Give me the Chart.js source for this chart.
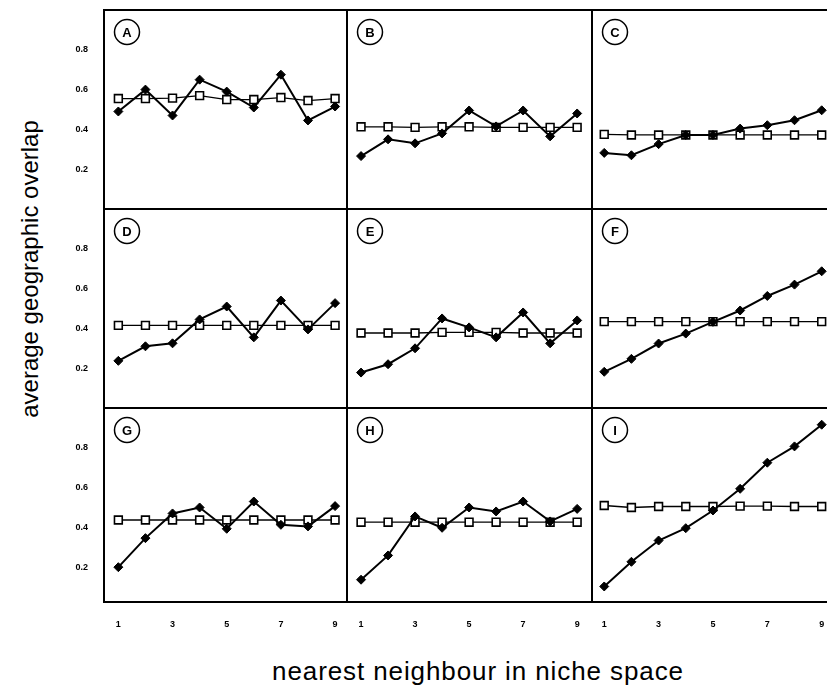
<!DOCTYPE html>
<html>
<head>
<meta charset="utf-8">
<script src="https://cdn.jsdelivr.net/npm/chart.js@4"></script>
<style>
  html, body { margin: 0; padding: 0; background: #fff; }
  body { width: 827px; height: 694px; overflow: hidden; position: relative; font-family: Arial, "Liberation Sans", sans-serif; color: #000; }
  canvas { position: absolute; }
  .ytitle { position: absolute; left: 30px; top: 269px; transform: translate(-50%, -50%) rotate(-90deg); font-size: 24px; white-space: nowrap; }
  .xtitle { position: absolute; left: 478px; top: 671px; transform: translate(-50%, -50%); font-size: 26px; letter-spacing: 0.9px; white-space: nowrap; }
</style>
</head>
<body>
<div class="ytitle">average geographic overlap</div>
<div class="xtitle">nearest neighbour in niche space</div>
<script>
const xValues = [1, 2, 3, 4, 5, 6, 7, 8, 9];
const xTicks = [1, 3, 5, 7, 9];
const yTicks = [0.2, 0.4, 0.6, 0.8];
const panelLabels = ['A', 'B', 'C', 'D', 'E', 'F', 'G', 'H', 'I'];

// open squares / filled diamonds, per panel
const openA   = [0.555, 0.555, 0.557, 0.57, 0.55, 0.55, 0.56, 0.545, 0.555];
const filledA = [0.49, 0.60, 0.47, 0.65, 0.59, 0.51, 0.675, 0.445, 0.515];
const openB   = [0.413, 0.413, 0.41, 0.413, 0.413, 0.41, 0.41, 0.41, 0.41];
const filledB = [0.266, 0.35, 0.33, 0.38, 0.495, 0.415, 0.495, 0.365, 0.48];
const openC   = [0.375, 0.372, 0.372, 0.372, 0.372, 0.372, 0.372, 0.372, 0.372];
const filledC = [0.282, 0.27, 0.326, 0.372, 0.372, 0.404, 0.421, 0.446, 0.496];
const openD   = [0.415, 0.415, 0.415, 0.415, 0.415, 0.415, 0.415, 0.415, 0.415];
const filledD = [0.237, 0.31, 0.325, 0.445, 0.51, 0.355, 0.54, 0.395, 0.527];
const openE   = [0.377, 0.377, 0.377, 0.38, 0.38, 0.38, 0.377, 0.377, 0.377];
const filledE = [0.178, 0.22, 0.30, 0.45, 0.405, 0.355, 0.48, 0.325, 0.44];
const openF   = [0.434, 0.434, 0.434, 0.434, 0.434, 0.434, 0.434, 0.434, 0.434];
const filledF = [0.182, 0.247, 0.324, 0.374, 0.433, 0.49, 0.563, 0.62, 0.687];
const openG   = [0.437, 0.437, 0.437, 0.437, 0.437, 0.437, 0.437, 0.437, 0.437];
const filledG = [0.20, 0.346, 0.47, 0.50, 0.393, 0.53, 0.413, 0.405, 0.507];
const openH   = [0.426, 0.426, 0.426, 0.426, 0.426, 0.426, 0.426, 0.426, 0.426];
const filledH = [0.137, 0.259, 0.455, 0.398, 0.50, 0.48, 0.53, 0.43, 0.493];
const openI   = [0.51, 0.50, 0.505, 0.505, 0.505, 0.507, 0.507, 0.505, 0.505];
const filledI = [0.103, 0.227, 0.334, 0.396, 0.485, 0.594, 0.725, 0.807, 0.916];

const openSeries   = [openA, openB, openC, openD, openE, openF, openG, openH, openI];
const filledSeries = [filledA, filledB, filledC, filledD, filledE, filledF, filledG, filledH, filledI];

// panel grid on the page
const colX = [104, 347, 592];
const colW = [243, 245, 246];
const rowY = [10, 209, 408];
const rowH = [199, 199, 194];
const colRange = [[0.47, 9.44], [0.48, 9.55], [0.55, 9.6]];
const rowRange = [[0, 1.0], [0, 1.0], [0.025, 1.0]];

const tickFont = { family: 'Arial, "Liberation Sans", sans-serif', size: 9, weight: 'bold' };

const panelFrame = {
  id: 'panelFrame',
  afterDraw(chart, args, opts) {
    const { ctx, chartArea: a } = chart;
    ctx.save();
    ctx.strokeStyle = '#000';
    ctx.lineWidth = 2;
    ctx.strokeRect(a.left, a.top, a.right - a.left, a.bottom - a.top);
    const cx = a.left + 23, cy = a.top + 22;
    ctx.lineWidth = 1.5;
    ctx.beginPath();
    ctx.arc(cx, cy, 12.5, 0, Math.PI * 2);
    ctx.stroke();
    ctx.fillStyle = '#000';
    ctx.font = 'bold 13px Arial, "Liberation Sans", sans-serif';
    ctx.textAlign = 'center';
    ctx.textBaseline = 'middle';
    ctx.fillText(opts.label, cx, cy + 1);
    ctx.restore();
  }
};

function toPoints(values) {
  return values.map((y, i) => ({ x: xValues[i], y }));
}

// fixed axis size, no extra edge padding
function pinAxis(s, size) {
  if (s.isHorizontal()) s.height = size; else s.width = size;
  s.paddingTop = 0;
  s.paddingBottom = 0;
  s.paddingLeft = 0;
  s.paddingRight = 0;
}

for (let r = 0; r < 3; r++) {
  for (let c = 0; c < 3; c++) {
    const k = r * 3 + c;
    const showX = r === 2;
    const showY = c === 0;
    const left = showY ? 0 : colX[c] - 2;
    const width = (showY ? colX[c] : 2) + colW[c] + 2;
    const height = 2 + rowH[r] + (showX ? 40 : 2);

    const cv = document.createElement('canvas');
    cv.width = width;
    cv.height = height;
    cv.style.left = left + 'px';
    cv.style.top = (rowY[r] - 2) + 'px';
    cv.style.width = width + 'px';
    cv.style.height = height + 'px';
    document.body.appendChild(cv);

    new Chart(cv, {
      type: 'line',
      data: {
        datasets: [
          {
            data: toPoints(filledSeries[k]),
            borderColor: '#000',
            borderWidth: 2,
            pointStyle: 'rectRot',
            pointRadius: 4.5,
            pointBackgroundColor: '#000',
            pointBorderColor: '#000',
            pointBorderWidth: 1,
            order: 0,
          },
          {
            data: toPoints(openSeries[k]),
            borderColor: '#000',
            borderWidth: 1.3,
            pointStyle: 'rect',
            pointRadius: 5.5,
            pointBackgroundColor: '#fff',
            pointBorderColor: '#000',
            pointBorderWidth: 1.6,
            order: 1,
          },
        ],
      },
      options: {
        responsive: false,
        animation: false,
        events: [],
        layout: {
          autoPadding: false,
          padding: { left: showY ? 0 : 2, top: 2, right: 2, bottom: showX ? 0 : 2 },
        },
        plugins: {
          legend: { display: false },
          tooltip: { enabled: false },
          panelFrame: { label: panelLabels[k] },
        },
        scales: {
          x: {
            type: 'linear',
            min: colRange[c][0],
            max: colRange[c][1],
            display: showX,
            grid: { display: false, drawTicks: false },
            border: { display: false },
            afterBuildTicks: s => { s.ticks = xTicks.map(v => ({ value: v })); },
            afterFit: s => { if (showX) pinAxis(s, 40); },
            ticks: { color: '#000', font: tickFont, padding: 17, maxRotation: 0, callback: v => String(v) },
          },
          y: {
            type: 'linear',
            min: rowRange[r][0],
            max: rowRange[r][1],
            display: showY,
            grid: { display: false, drawTicks: false },
            border: { display: false },
            afterBuildTicks: s => { s.ticks = yTicks.map(v => ({ value: v })); },
            afterFit: s => { if (showY) pinAxis(s, colX[0]); },
            ticks: { color: '#000', font: tickFont, padding: 16, callback: v => v.toFixed(1) },
          },
        },
      },
      plugins: [panelFrame],
    });
  }
}
</script>
</body>
</html>
